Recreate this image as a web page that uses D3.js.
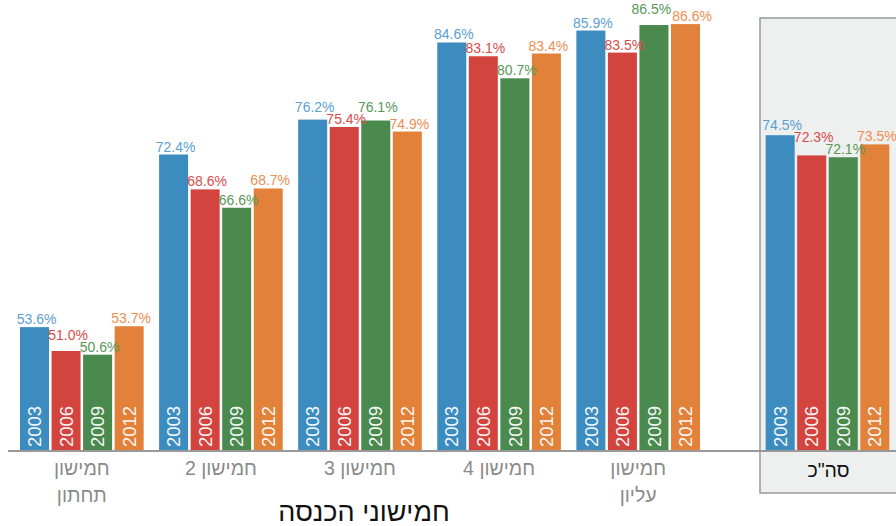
<!DOCTYPE html>
<html>
<head>
<meta charset="utf-8">
<script src="https://cdn.jsdelivr.net/npm/d3@7/dist/d3.min.js"></script>
<style>
  html, body { margin: 0; padding: 0; background: #fff; }
  svg { display: block; font-family: "Liberation Sans", Arial, "DejaVu Sans", sans-serif; }
</style>
</head>
<body>
<svg id="chart" width="896" height="526"></svg>
<script>
// Income quintiles and survey years
const groups = ["חמישון תחתון", "חמישון 2", "חמישון 3", "חמישון 4", "חמישון עליון"];
const years = ["2003", "2006", "2009", "2012"];

// Share (%) per quintile, one array per year
const values2003 = [53.6, 72.4, 76.2, 84.6, 85.9];
const values2006 = [51.0, 68.6, 75.4, 83.1, 83.5];
const values2009 = [50.6, 66.6, 76.1, 80.7, 86.5];
const values2012 = [53.7, 68.7, 74.9, 83.4, 86.6];

// Overall figure per year
const totalLabel = 'סה"כ';
const totalValues = [74.5, 72.3, 72.1, 73.5];

const xTitle = "חמישוני הכנסה";

const barColors = ["#3d8cc0", "#d3443f", "#4b8a4f", "#e2823a"];
const labelColors = ["#5b9fd3", "#dc4b4b", "#579858", "#ee8e50"];

const seriesByYear = [values2003, values2006, values2009, values2012];

const svg = d3.select("#chart");
const W = 896, H = 526;

const y = d3.scaleLinear().domain([40, 90]).range([452, 452 - 50 * 9.182]);
const baseY = 451;

const x0 = d3.scaleBand().domain(groups).range([20, 700]).paddingInner(0.111).paddingOuter(0);
const x1 = d3.scaleBand().domain(years).range([0, x0.bandwidth()]).paddingInner(0.08).paddingOuter(0);
const xt = d3.scaleBand().domain([totalLabel]).range([760, 897]).paddingInner(0).paddingOuter(0.045);

// Panel background for the overall figure
svg.append("rect")
  .attr("x", xt.range()[0]).attr("y", 18)
  .attr("width", 150).attr("height", 475)
  .attr("fill", "#eef0f0").attr("stroke", "#999").attr("stroke-width", 1.5);

// Build per-cluster records
const clusters = groups.map((g, gi) => ({
  key: g,
  x: x0(g),
  items: years.map((yr, yi) => ({ year: yr, yi, value: seriesByYear[yi][gi] }))
}));
clusters.push({
  key: totalLabel,
  x: xt(totalLabel),
  items: years.map((yr, yi) => ({ year: yr, yi, value: totalValues[yi] }))
});

const plot = svg.append("g");
const SEP = 12;       // minimum baseline distance between stacked labels
const CEIL = 14;      // highest allowed baseline

function overlapX(a, b) {
  return (a.w + b.w) / 2 - Math.abs(a.cx - b.cx);
}

clusters.forEach(c => {
  const g = plot.append("g").attr("transform", `translate(${c.x},0)`);
  g.selectAll("rect").data(c.items).join("rect")
    .attr("x", d => x1(d.year))
    .attr("y", d => y(d.value))
    .attr("width", x1.bandwidth())
    .attr("height", d => y.range()[0] - y(d.value))
    .attr("fill", d => barColors[d.yi]);

  // Year inside each bar
  g.selectAll("text.year").data(c.items).join("text")
    .attr("class", "year")
    .attr("transform", d => `translate(${x1(d.year) + x1.bandwidth() / 2},${baseY - 4}) rotate(-90)`)
    .attr("dy", "0.36em")
    .attr("text-anchor", "start")
    .attr("font-size", 18.5)
    .attr("fill", "#fff")
    .attr("fill-opacity", 0.96)
    .text(d => d.year);

  // Value labels with a simple de-overlap: lift the upper label,
  // or lift the neighbour instead when the top edge is in the way,
  // and spread sideways if they still collide.
  const labels = g.selectAll("text.val").data(c.items).join("text")
    .attr("class", "val")
    .attr("text-anchor", "middle")
    .attr("font-size", 14)
    .attr("fill", d => labelColors[d.yi])
    .text(d => d.value.toFixed(1) + "%");

  const boxes = c.items.map((d, i) => {
    const w = labels.nodes()[i].getComputedTextLength();
    const cx = x1(d.year) + x1.bandwidth() / 2 + 2;
    return { d, cx, w, b: y(d.value) - 3 };
  });
  const order = boxes.slice().sort((a, b) => b.b - a.b);
  const placed = [];
  order.forEach(bx => {
    placed.forEach(p => {
      if (overlapX(bx, p) <= 0) return;
      if (bx.b <= p.b - SEP) return;
      const want = p.b - SEP;
      if (want >= CEIL) {
        bx.b = want;
      } else {
        // no room above: the other label goes up instead
        p.b = Math.max(CEIL, bx.b - SEP);
        if (bx.b - p.b < SEP) {
          const ov = overlapX(bx, p) + 1;
          const dir = bx.cx > p.cx ? 1 : -1;
          bx.cx += dir * ov / 2;
          p.cx -= dir * ov / 2;
        }
      }
    });
    placed.push(bx);
  });
  labels.attr("x", (d, i) => boxes[i].cx).attr("y", (d, i) => boxes[i].b);
});

// Baseline
svg.append("line")
  .attr("x1", 8).attr("x2", W).attr("y1", baseY).attr("y2", baseY)
  .attr("stroke", "#999").attr("stroke-width", 2);

// Category labels, wrapped onto two lines when long
function wrapWords(s, maxChars) {
  const words = s.split(" ");
  const lines = [];
  let cur = "";
  words.forEach(w => {
    const t = cur ? cur + " " + w : w;
    if (t.length > maxChars && cur) { lines.push(cur); cur = w; } else cur = t;
  });
  if (cur) lines.push(cur);
  return lines;
}

groups.forEach(gname => {
  const cx = x0(gname) + x0.bandwidth() / 2;
  const t = svg.append("text")
    .attr("direction", "rtl")
    .attr("text-anchor", "middle")
    .attr("font-size", 19.5)
    .attr("fill", "#8a8a8a")
    .attr("x", cx)
    .attr("y", 475);
  wrapWords(gname, 10).forEach((ln, i) => {
    t.append("tspan")
      .attr("x", cx)
      .attr("dy", i === 0 ? 0 : 27)
      .text(ln);
  });
});

svg.append("text")
  .attr("direction", "rtl")
  .attr("text-anchor", "middle")
  .attr("font-size", 19.5)
  .attr("fill", "#111")
  .attr("x", xt(totalLabel) + xt.bandwidth() / 2)
  .attr("y", 477)
  .text(totalLabel);

// Axis title
svg.append("text")
  .attr("direction", "rtl")
  .attr("text-anchor", "middle")
  .attr("font-size", 27)
  .attr("fill", "#111")
  .attr("x", 364)
  .attr("y", 521)
  .text(xTitle);
</script>
</body>
</html>
